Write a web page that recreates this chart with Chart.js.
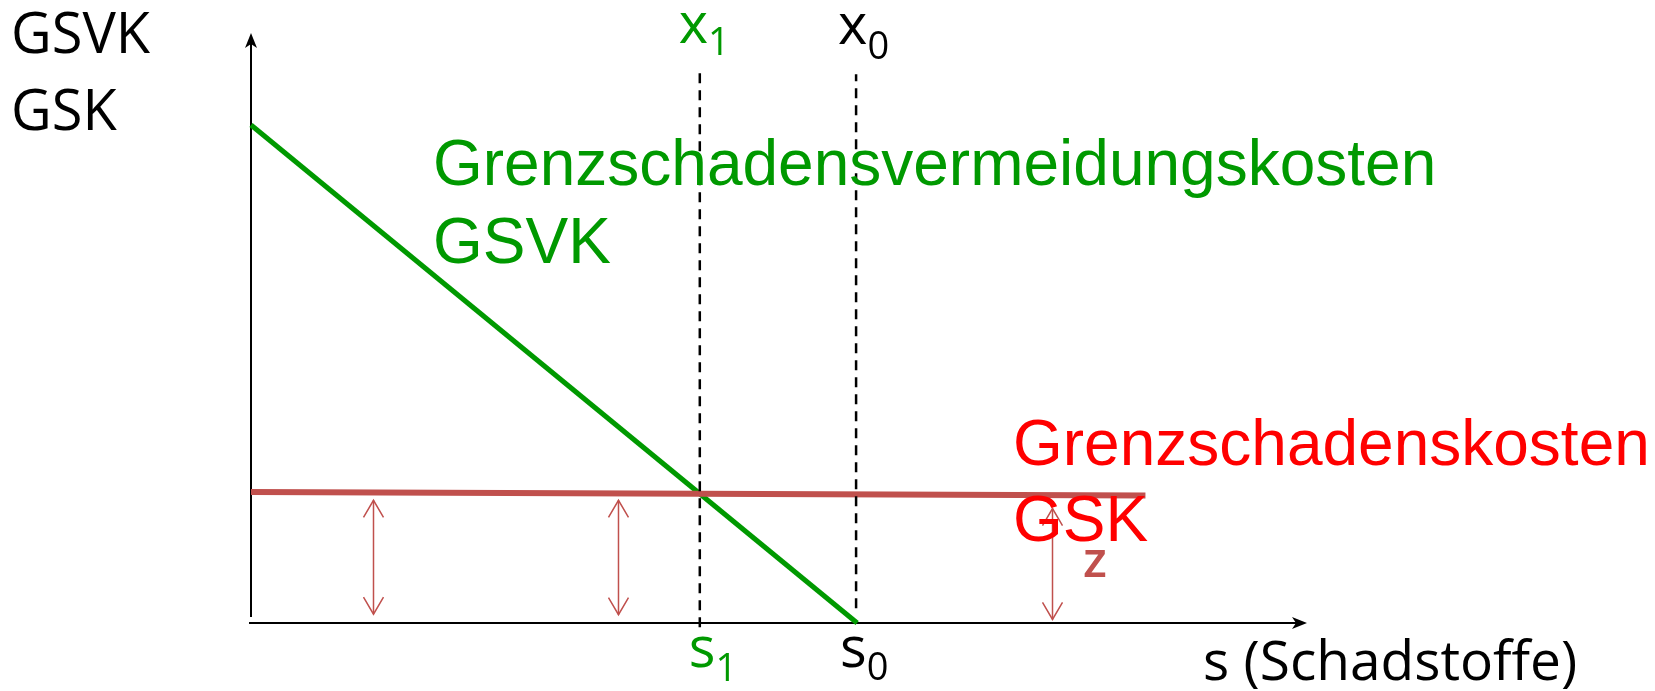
<!DOCTYPE html>
<html>
<head>
<meta charset="utf-8">
<script src="https://cdn.jsdelivr.net/npm/chart.js@4"></script>
<style>
html,body{margin:0;padding:0;background:#fff;}
</style>
</head>
<body>
<canvas id="chart" width="1655" height="691"></canvas>
<script>
// Grenzschadensvermeidungskosten (GSVK)
const gsvkX = [0, 57.4];
const gsvkY = [84.4, 0];

// Grenzschadenskosten (GSK)
const gskX = [0, 84.7];
const gskY = [22.2, 21.6];

// s1 / s0 markers
const markerX = [42.5, 57.3];
const markerTop = [93.7, 93.0];
const markerBottom = [-0.7, 2.5];

// z arrows
const arrowX = [11.6, 34.8, 75.9];
const arrowTop = [20.8, 20.8, 19.4];
const arrowBottom = [1.5, 1.4, 0.6];

const GREEN = '#009900';
const RED = '#ff0000';
const BROWN = '#c0504d';
const SANS = '"Open Sans", sans-serif';
const ARIAL = '"Liberation Sans", Arial, sans-serif';

function pts(xs, ys) {
    return xs.map((x, i) => ({x: x, y: ys[i]}));
}

const datasets = [];
markerX.forEach((x, i) => {
    datasets.push({
        data: [{x: x, y: markerBottom[i]}, {x: x, y: markerTop[i]}],
        borderColor: '#000',
        borderWidth: 2.5,
        borderDash: [10, 7],
        pointRadius: 0,
        clip: false
    });
});
datasets.push({
    data: pts(gskX, gskY),
    borderColor: BROWN,
    borderWidth: 6,
    pointRadius: 0,
    clip: false
});
datasets.push({
    data: pts(gsvkX, gsvkY),
    borderColor: GREEN,
    borderWidth: 5,
    pointRadius: 0,
    clip: false
});
arrowX.forEach((x, i) => {
    datasets.push({
        data: [{x: x, y: arrowBottom[i]}, {x: x, y: arrowTop[i]}],
        borderColor: BROWN,
        borderWidth: 1.5,
        pointRadius: 0,
        clip: false
    });
});

// axes with arrow tips
const axesPlugin = {
    id: 'axes',
    beforeDatasetsDraw(chart) {
        const ctx = chart.ctx;
        const a = chart.chartArea;
        ctx.save();
        ctx.strokeStyle = '#000';
        ctx.fillStyle = '#000';
        ctx.lineWidth = 2;
        ctx.beginPath();
        ctx.moveTo(a.left, a.bottom - 6);
        ctx.lineTo(a.left, a.top + 4);
        ctx.moveTo(a.left - 2, a.bottom);
        ctx.lineTo(a.right - 4, a.bottom);
        ctx.stroke();
        // y tip
        ctx.beginPath();
        ctx.moveTo(a.left, a.top);
        ctx.lineTo(a.left - 6, a.top + 15);
        ctx.lineTo(a.left, a.top + 11);
        ctx.lineTo(a.left + 6, a.top + 15);
        ctx.closePath();
        ctx.fill();
        // x tip
        ctx.beginPath();
        ctx.moveTo(a.right, a.bottom);
        ctx.lineTo(a.right - 15, a.bottom - 6);
        ctx.lineTo(a.right - 11, a.bottom);
        ctx.lineTo(a.right - 15, a.bottom + 6);
        ctx.closePath();
        ctx.fill();
        ctx.restore();
    }
};

// open arrow heads on the z arrows
const arrowPlugin = {
    id: 'arrowHeads',
    afterDatasetsDraw(chart) {
        const ctx = chart.ctx;
        const xs = chart.scales.x, ys = chart.scales.y;
        ctx.save();
        ctx.strokeStyle = BROWN;
        ctx.lineWidth = 1.5;
        arrowX.forEach((x, i) => {
            const px = xs.getPixelForValue(x);
            const t = ys.getPixelForValue(arrowTop[i]);
            const b = ys.getPixelForValue(arrowBottom[i]);
            ctx.beginPath();
            ctx.moveTo(px - 10, t + 17);
            ctx.lineTo(px, t);
            ctx.lineTo(px + 10, t + 17);
            ctx.moveTo(px - 10, b - 17);
            ctx.lineTo(px, b);
            ctx.lineTo(px + 10, b - 17);
            ctx.stroke();
        });
        ctx.restore();
    }
};

function sub(ctx, main, subText, x, y, subDrop, color) {
    ctx.fillStyle = color;
    ctx.font = '56px ' + SANS;
    ctx.fillText(main, x, y);
    const w = ctx.measureText(main).width;
    ctx.font = '38px ' + SANS;
    ctx.fillText(subText, x + w, y + subDrop);
}

// labels
const labelPlugin = {
    id: 'labels',
    afterDraw(chart) {
        const ctx = chart.ctx;
        const xs = chart.scales.x;
        const x1 = xs.getPixelForValue(markerX[0]);
        const x0 = xs.getPixelForValue(markerX[1]);
        ctx.save();
        ctx.textBaseline = 'alphabetic';
        ctx.textAlign = 'left';

        ctx.fillStyle = '#000';
        ctx.font = '56px ' + SANS;
        ctx.fillText('GSVK', 11, 53);
        ctx.fillText('GSK', 11, 130);

        sub(ctx, 'x', '1', x1 - 21, 43, 12, GREEN);
        sub(ctx, 'x', '0', x0 - 18, 44, 15, '#000');
        sub(ctx, 's', '1', x1 - 11, 667, 14, GREEN);
        sub(ctx, 's', '0', x0 - 16, 667, 13, '#000');

        ctx.fillStyle = '#000';
        ctx.font = '55px ' + SANS;
        ctx.fillText('s (Schadstoffe)', 1203, 680);

        ctx.fillStyle = GREEN;
        ctx.font = '64px ' + ARIAL;
        ctx.fillText('Grenzschadensvermeidungskosten', 433, 185);
        ctx.fillText('GSVK', 433, 263);

        ctx.fillStyle = RED;
        ctx.fillText('Grenzschadenskosten', 1013, 465);
        ctx.fillText('GSK', 1013, 541);

        ctx.fillStyle = BROWN;
        ctx.font = '600 50px ' + SANS;
        ctx.fillText('z', 1083, 577);
        ctx.restore();
    }
};

new Chart(
document.getElementById('chart'),
{
    type: 'line',
    data: {datasets: datasets},
    options: {
        responsive: false,
        animation: false,
        layout: {padding: {left: 251, right: 348, top: 33, bottom: 68}},
        plugins: {legend: {display: false}, tooltip: {enabled: false}},
        scales: {
            x: {type: 'linear', min: 0, max: 100, display: false},
            y: {type: 'linear', min: 0, max: 100, display: false}
        }
    },
    plugins: [axesPlugin, arrowPlugin, labelPlugin]
});
</script>
</body>
</html>
